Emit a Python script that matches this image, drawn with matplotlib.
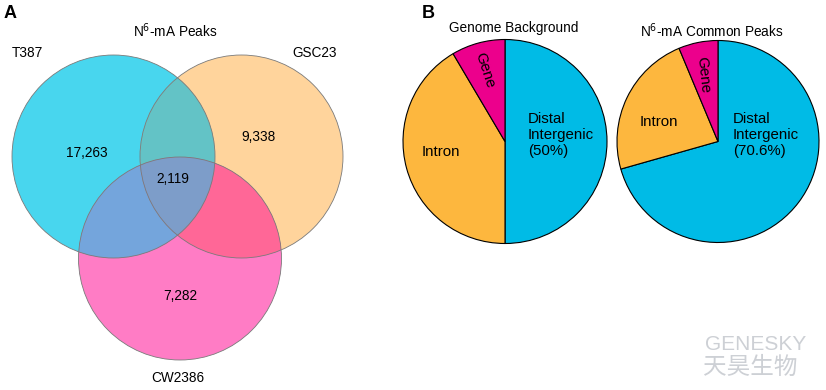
import numpy as np
import matplotlib.pyplot as plt
from matplotlib.patches import Circle, Polygon

plt.rcParams['font.family'] = ['Liberation Sans', 'Noto Sans CJK SC', 'DejaVu Sans']

# Panel A: N6-mA peaks Venn
set_names = ["T387", "GSC23", "CW2386"]
unique_counts = [17263, 9338, 7282]
common_count = 2119

# Panel B: peak annotation pies
pie_labels = ["Distal\nIntergenic", "Intron", "Gene"]
genome_pct = [50.0, 41.5, 8.5]
common_pct = [70.6, 23.1, 6.3]

H = 390


def Y(y):
    return H - y


def disk_intersection(disks, n=1500):
    # boundary points of the intersection of several disks (convex region)
    pts = []
    for i, (cx, cy, r) in enumerate(disks):
        t = np.linspace(0, 2 * np.pi, n, endpoint=False)
        p = np.column_stack([cx + r * np.cos(t), cy + r * np.sin(t)])
        keep = np.ones(n, bool)
        for j, (ox, oy, orr) in enumerate(disks):
            if j != i:
                keep &= np.hypot(p[:, 0] - ox, p[:, 1] - oy) <= orr + 1e-9
        pts.append(p[keep])
    pts = np.vstack(pts)
    c = pts.mean(axis=0)
    order = np.argsort(np.arctan2(pts[:, 1] - c[1], pts[:, 0] - c[0]))
    return pts[order]


def main():
    fig = plt.figure(figsize=(8.26, 3.9), dpi=100)
    ax = fig.add_axes([0, 0, 1, 1])

    # ---- Venn ----
    r = 101.5
    circles = [(113.5, Y(156.5), r), (241.5, Y(156.5), r), (180, Y(258.5), r)]
    base_cols = ["#48D6EE", "#FFD49C", "#FF7CC5"]
    for (cx, cy, rr), col in zip(circles, base_cols):
        ax.add_patch(Circle((cx, cy), rr, facecolor=col, edgecolor='none', zorder=1))

    pairs = {(0, 1): "#63C3C6", (0, 2): "#74A5DC", (1, 2): "#FF6797"}
    for (i, j), col in pairs.items():
        poly = disk_intersection([circles[i], circles[j]])
        ax.add_patch(Polygon(poly, closed=True, facecolor=col, edgecolor='none', zorder=2))
    poly = disk_intersection(circles)
    ax.add_patch(Polygon(poly, closed=True, facecolor="#7D9DC9", edgecolor='none', zorder=3))

    for cx, cy, rr in circles:
        ax.add_patch(Circle((cx, cy), rr, facecolor='none', edgecolor='#7a7a7a', linewidth=0.6, zorder=4))

    fs = 9.8
    ax.text(87, Y(153), f"{unique_counts[0]:,}", ha='center', va='center', fontsize=fs, zorder=5)
    ax.text(259, Y(137), f"{unique_counts[1]:,}", ha='center', va='center', fontsize=fs, zorder=5)
    ax.text(180, Y(296), f"{unique_counts[2]:,}", ha='center', va='center', fontsize=fs, zorder=5)
    ax.text(173, Y(179), f"{common_count:,}", ha='center', va='center', fontsize=fs, zorder=5)

    ax.text(12, Y(53), set_names[0], ha='left', va='center', fontsize=fs)
    ax.text(337, Y(53), set_names[1], ha='right', va='center', fontsize=fs)
    ax.text(178, Y(378), set_names[2], ha='center', va='center', fontsize=fs)
    ax.text(175, Y(31), "N$^{6}$-mA Peaks", ha='center', va='center', fontsize=fs)
    ax.text(4, Y(13), "A", ha='left', va='center', fontsize=13, fontweight='bold')

    # ---- Pies ----
    pie_cols = ["#00BBE6", "#FDB73E", "#EC008C"]
    wp = dict(edgecolor='black', linewidth=0.8)
    ax.pie(genome_pct, colors=pie_cols, startangle=90, counterclock=False,
           center=(505, Y(141.5)), radius=102, wedgeprops=wp, frame=True)
    ax.pie(common_pct, colors=pie_cols, startangle=90, counterclock=False,
           center=(718, Y(141.5)), radius=101, wedgeprops=wp, frame=True)

    pfs = 10.8
    ax.text(528, Y(135), f"{pie_labels[0]}\n({genome_pct[0]:g}%)", ha='left', va='center',
            fontsize=pfs, linespacing=1.2)
    ax.text(733, Y(135), f"{pie_labels[0]}\n({common_pct[0]:g}%)", ha='left', va='center',
            fontsize=pfs, linespacing=1.2)
    ax.text(422, Y(152), pie_labels[1], ha='left', va='center', fontsize=pfs)
    ax.text(640, Y(122), pie_labels[1], ha='left', va='center', fontsize=pfs)
    ax.text(485, Y(70), pie_labels[2], ha='center', va='center', fontsize=pfs, rotation=-72)
    ax.text(703, Y(75), pie_labels[2], ha='center', va='center', fontsize=pfs, rotation=-84)

    ax.text(514, Y(28), "Genome Background", ha='center', va='center', fontsize=9.8)
    ax.text(712, Y(31), "N$^{6}$-mA Common Peaks", ha='center', va='center', fontsize=9.8)
    ax.text(422, Y(13), "B", ha='left', va='center', fontsize=13, fontweight='bold')

    # watermark
    ax.text(705, Y(345), "GENESKY", ha='left', va='center', fontsize=15, color='#CDD0D5')
    ax.text(703, Y(368), "天昊生物", ha='left', va='center', fontsize=17, color='#CDD0D5')

    ax.set_xlim(0, 826)
    ax.set_ylim(0, H)
    ax.set_aspect('equal')
    ax.axis('off')

    fig.savefig("out.png", dpi=100)


if __name__ == "__main__":
    main()
